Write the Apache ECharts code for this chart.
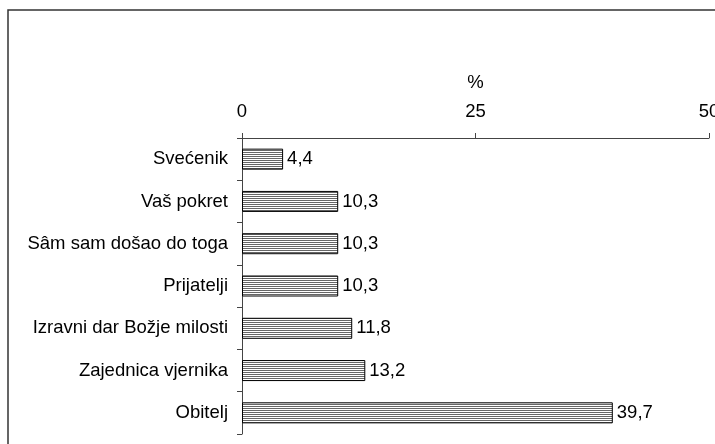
<!DOCTYPE html>
<html><head><meta charset="utf-8">
<script src="https://cdn.jsdelivr.net/npm/echarts@6/dist/echarts.min.js"></script>
<style>html,body{margin:0;padding:0;background:#fff}#c{width:715px;height:444px}</style>
</head><body><div id="c"></div>
<script>
var categories = ['Svećenik','Vaš pokret','Sâm sam došao do toga','Prijatelji','Izravni dar Božje milosti','Zajednica vjernika','Obitelj'];
var values = [4.4,10.3,10.3,10.3,11.8,13.2,39.7];
var xTicks = [0,25,50];

var pc = document.createElement('canvas');
pc.width = 4; pc.height = 2;
var ctx = pc.getContext('2d');
ctx.fillStyle = '#fff'; ctx.fillRect(0,0,4,2);
ctx.fillStyle = '#666'; ctx.fillRect(0,0,4,1);

var chart = echarts.init(document.getElementById('c'), null, {renderer:'canvas'});
var font = 'Liberation Sans, Arial, sans-serif';
var fs = 18.5;
chart.setOption({
  animation:false,
  graphic:[{type:'rect',shape:{x:8,y:10,width:800,height:500},style:{fill:'none',stroke:'#333',lineWidth:1.5},z:-1}],
  grid:{left:242,right:6,top:138,height:296,containLabel:false,outerBoundsMode:'none'},
  xAxis:{type:'value',position:'top',min:xTicks[0],max:xTicks[xTicks.length-1],interval:25,
    name:'%',nameLocation:'middle',nameGap:46,nameTextStyle:{fontFamily:font,fontSize:fs,color:'#000'},
    axisLine:{show:true,lineStyle:{color:'#444',width:1}},
    axisTick:{show:true,length:5,lineStyle:{color:'#444'}},
    axisLabel:{fontFamily:font,fontSize:fs,color:'#000',margin:17},
    splitLine:{show:false}},
  yAxis:{type:'category',inverse:true,data:categories,
    axisLine:{show:true,lineStyle:{color:'#444',width:1}},
    axisTick:{show:true,length:5,lineStyle:{color:'#444'}},
    axisLabel:{fontFamily:font,fontSize:fs,color:'#000',margin:14}},
  series:[{type:'bar',data:values,barWidth:21,
    itemStyle:{color:{image:pc,repeat:'repeat'},borderColor:'#000',borderWidth:1},
    label:{show:true,position:'right',distance:4,fontFamily:font,fontSize:fs,color:'#000',
      formatter:function(p){return String(p.value).replace('.',',');}}}]
});
</script></body></html>
